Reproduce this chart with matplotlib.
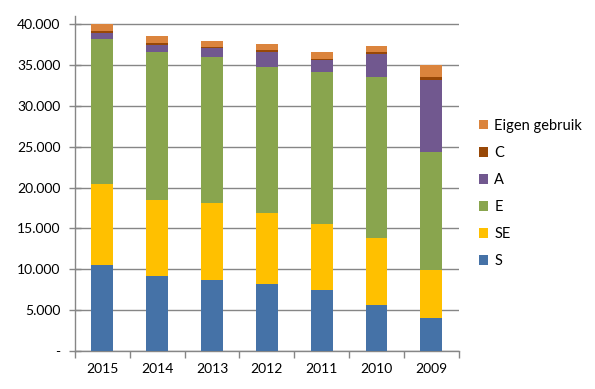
import matplotlib.pyplot as plt
from matplotlib.ticker import FuncFormatter, FixedLocator
import numpy as np

plt.rcParams['font.family'] = ['Lato', 'DejaVu Sans']

# data
years = ['2015', '2014', '2013', '2012', '2011', '2010', '2009']
s_vals = [10500, 9200, 8700, 8200, 7450, 5600, 4050]
se_vals = [9900, 9250, 9400, 8700, 8100, 8200, 5850]
e_vals = [17750, 18200, 17850, 17850, 18600, 19700, 14400]
a_vals = [750, 850, 1150, 1900, 1500, 2900, 8850]
c_vals = [300, 150, 100, 250, 100, 250, 350]
eigen_vals = [850, 850, 750, 650, 850, 650, 1450]

series = [('S', s_vals, '#4572A7'),
          ('SE', se_vals, '#FFC000'),
          ('E', e_vals, '#89A54E'),
          ('A', a_vals, '#71588F'),
          ('C', c_vals, '#984807'),
          ('Eigen gebruik', eigen_vals, '#DB843D')]

fig = plt.figure(figsize=(5.95, 3.89), dpi=100)
ax = fig.add_axes([0.126, 0.0977, 0.645, 0.861])

x = np.arange(len(years))
bottom = np.zeros(len(years))
handles = []
for name, vals, color in series:
    b = ax.bar(x, vals, width=0.4, bottom=bottom, color=color, label=name, zorder=3)
    handles.append(b)
    bottom += np.array(vals)

ax.set_xlim(-0.5, len(years) - 0.5)
ax.set_ylim(0, 41000)
ax.set_yticks(np.arange(0, 40001, 5000))
ax.yaxis.set_major_formatter(FuncFormatter(
    lambda v, p: '-' if v == 0 else f'{int(v):,}'.replace(',', '.')))
ax.yaxis.grid(True, color='#868686', linewidth=1.0, zorder=0)

ax.set_xticks(x)
ax.set_xticklabels(years)
ax.tick_params(axis='x', which='major', length=0, labelsize=10, pad=9)
ax.xaxis.set_minor_locator(FixedLocator(np.arange(-0.5, len(years), 1.0)))
ax.tick_params(axis='x', which='minor', length=5, color='#868686', width=1.0)
ax.tick_params(axis='y', direction='inout', length=9, color='#868686', width=1.0,
               labelsize=10, pad=6)

for side in ['top', 'right']:
    ax.spines[side].set_visible(False)
for side in ['left', 'bottom']:
    ax.spines[side].set_color('#868686')
    ax.spines[side].set_linewidth(1.0)

fig.legend(handles[::-1], [h.get_label() for h in handles[::-1]],
           loc='upper left', bbox_to_anchor=(0.795, 0.71), frameon=False,
           fontsize=10.5, handlelength=0.65, handleheight=0.65, handletextpad=0.4,
           labelspacing=0.9, borderaxespad=0)

fig.savefig('out.png', dpi=100)
